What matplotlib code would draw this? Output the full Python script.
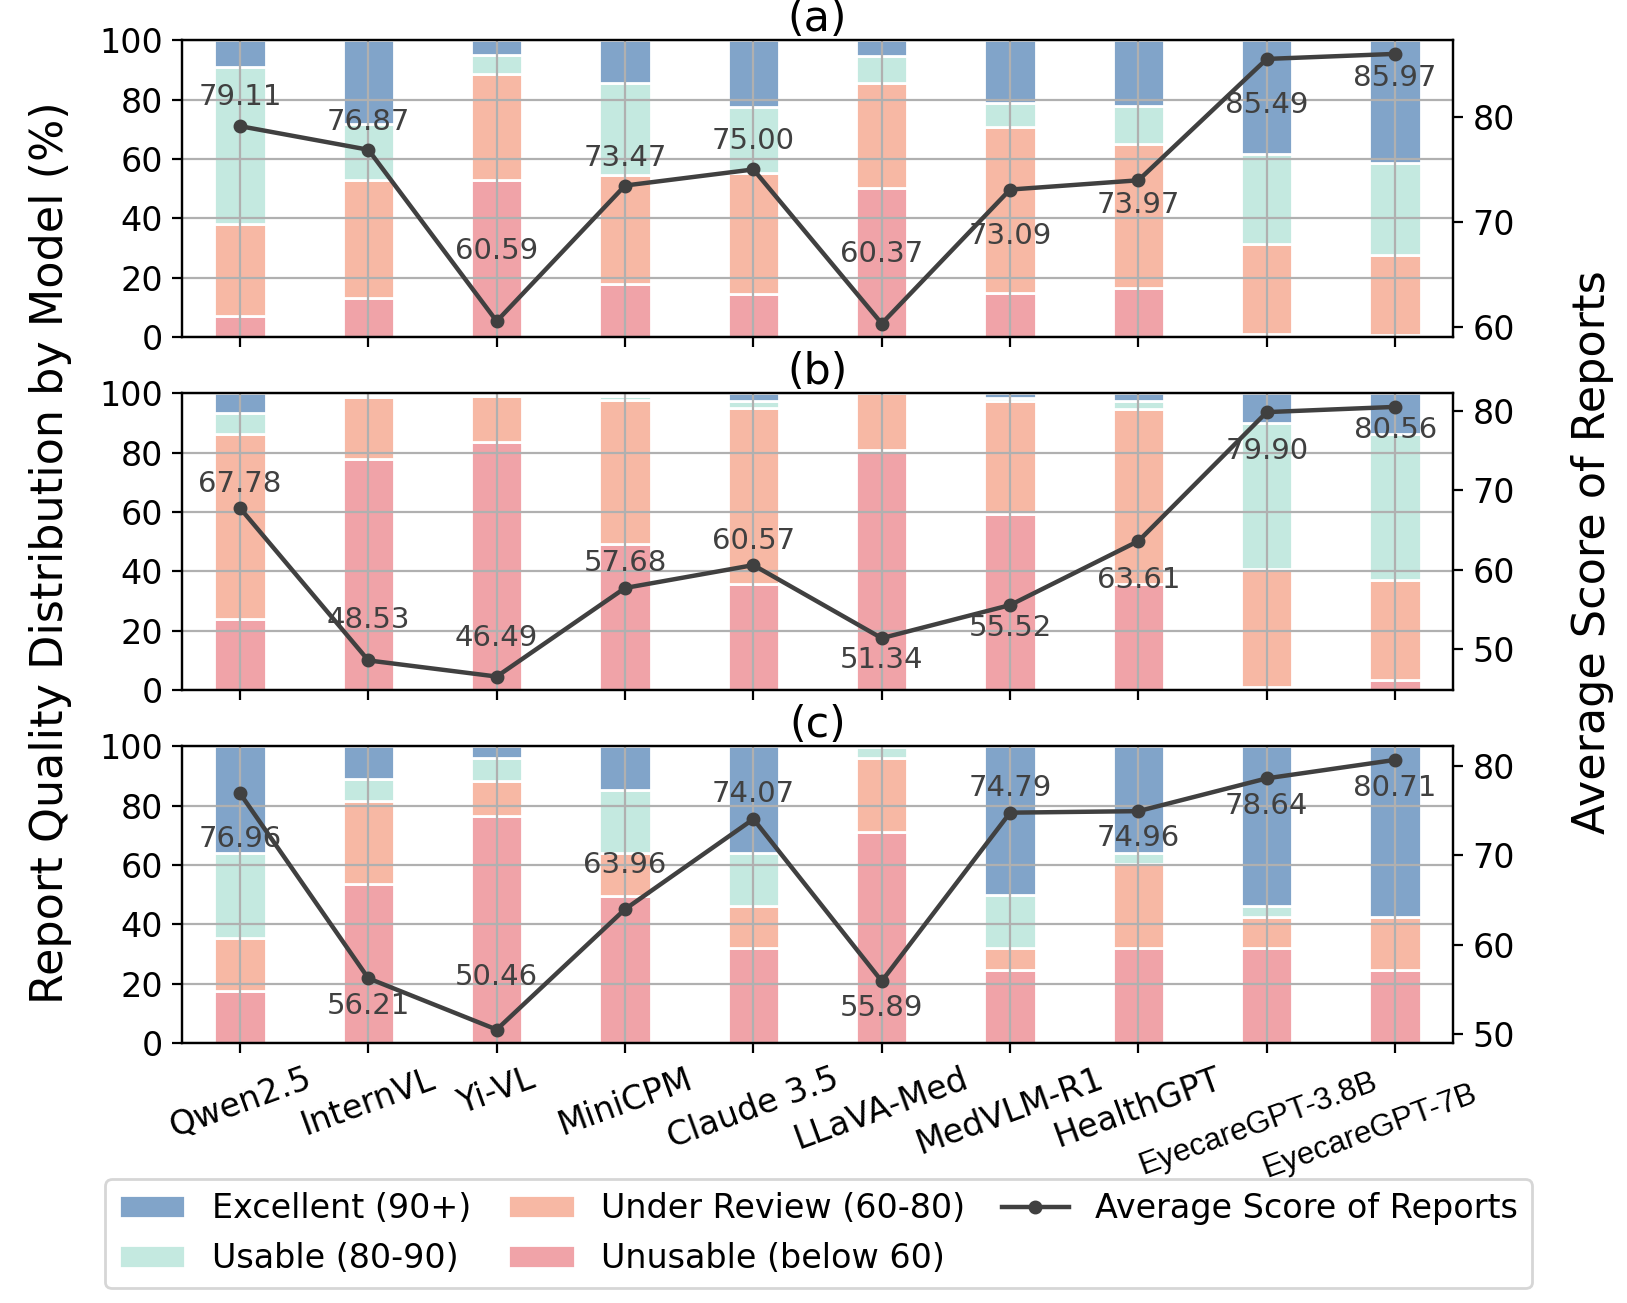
import matplotlib
matplotlib.use("Agg")
import matplotlib.pyplot as plt
import matplotlib.transforms as mtransforms
import numpy as np

models = ["Qwen2.5", "InternVL", "Yi-VL", "MiniCPM", "Claude 3.5", "LLaVA-Med",
          "MedVLM-R1", "HealthGPT", "EyecareGPT-3.8B", "EyecareGPT-7B"]
panel_titles = ["(a)", "(b)", "(c)"]

# percentages per quality band, one list per panel
unusable_a = [7.2, 13.0, 52.8, 17.9, 14.5, 50.2, 15.0, 16.5, 1.1, 0.8]
review_a = [30.9, 39.8, 35.9, 36.6, 40.8, 35.6, 55.7, 48.5, 30.2, 26.8]
usable_a = [52.9, 19.0, 6.5, 31.1, 22.2, 8.8, 8.2, 12.9, 30.4, 31.1]
excellent_a = [9.0, 28.2, 4.8, 14.4, 22.5, 5.4, 21.1, 22.1, 38.3, 41.3]
score_a = [79.11, 76.87, 60.59, 73.47, 75.00, 60.37, 73.09, 73.97, 85.49, 85.97]

unusable_b = [23.9, 77.8, 83.5, 49.3, 35.8, 81.0, 59.4, 35.8, 0.9, 3.4]
review_b = [62.3, 21.1, 15.7, 48.5, 59.2, 19.0, 37.9, 58.9, 40.0, 33.6]
usable_b = [7.3, 0.0, 0.0, 1.2, 2.6, 0.0, 1.2, 2.8, 49.2, 49.2]
excellent_b = [6.5, 0.0, 0.0, 0.0, 2.4, 0.0, 1.5, 2.5, 9.9, 13.8]
score_b = [67.78, 48.53, 46.49, 57.68, 60.57, 51.34, 55.52, 63.61, 79.90, 80.56]

unusable_c = [17.5, 53.5, 76.7, 49.6, 31.9, 71.1, 24.6, 31.9, 31.9, 24.6]
review_c = [17.8, 28.2, 11.5, 14.3, 14.3, 25.0, 7.3, 28.3, 10.7, 18.0]
usable_c = [28.6, 7.3, 7.8, 21.5, 18.0, 3.6, 17.9, 3.7, 3.6, 0.0]
excellent_c = [36.1, 11.0, 4.0, 14.6, 35.8, 0.3, 50.2, 36.1, 53.8, 57.4]
score_c = [76.96, 56.21, 50.46, 63.96, 74.07, 55.89, 74.79, 74.96, 78.64, 80.71]

panels = [
    (unusable_a, review_a, usable_a, excellent_a, score_a),
    (unusable_b, review_b, usable_b, excellent_b, score_b),
    (unusable_c, review_c, usable_c, excellent_c, score_c),
]

# vertical offset (pixels) of each score label from its marker
label_offsets = [
    [29, 28, 70, 28, 28, 70, -46, -25, -46, -24],
    [24, 40, 39, 25, 24, -22, -23, -39, -39, -23],
    [-46, -28, 53, 44, 25, -27, 25, -27, -28, -28],
]

band_names = ["Unusable (below 60)", "Under Review (60-80)", "Usable (80-90)", "Excellent (90+)"]
band_colors = ["#F0A3A8", "#F7B8A4", "#C4E9E0", "#81A4C9"]
line_color = "#404040"

fig, axes = plt.subplots(3, 1, sharex=True, figsize=(8.135, 6.515), dpi=200)
fig.subplots_adjust(left=0.112, right=0.893, top=0.969, bottom=0.1995, hspace=0.19)

x = np.arange(len(models))
bar_handles = []
line_handle = None
for k, ax in enumerate(axes):
    bands = panels[k][:4]
    scores = panels[k][4]
    bottom = np.zeros(len(models))
    handles = []
    for vals, name, col in zip(bands, band_names, band_colors):
        b = ax.bar(x, vals, 0.4, bottom=bottom, color=col, edgecolor="white",
                   linewidth=1, label=name)
        bottom += np.array(vals)
        handles.append(b)
    if k == 0:
        bar_handles = handles
    ax.set_ylim(0, 100)
    ax.set_yticks([0, 20, 40, 60, 80, 100])
    ax.tick_params(labelsize=12)
    ax.grid(True, color="#b0b0b0", linewidth=0.8)
    ax.set_title(panel_titles[k], fontsize=15.4, pad=0)

    ax2 = ax.twinx()
    ln, = ax2.plot(x, scores, color=line_color, marker="o", markersize=4,
                   linewidth=1.6, label="Average Score of Reports")
    line_handle = ln
    ax2.tick_params(labelsize=12)
    for i, v in enumerate(scores):
        ax2.annotate(f"{v:.2f}", (i, v), xytext=(0, label_offsets[k][i]),
                     textcoords="offset pixels", ha="center", va="center",
                     fontsize=10.5, color=line_color)

axes[0].set_xlim(-0.45, 9.45)
axes[-1].set_xticks(x)
axes[-1].set_xticklabels(models, rotation=20, ha="center", fontsize=12)

# the two EyecareGPT labels sit a bit lower/left in a different face
eyecare_shift = {"EyecareGPT-3.8B": (-3, -1.5), "EyecareGPT-7B": (-9, -6)}
for lab in axes[-1].get_xticklabels():
    name = lab.get_text()
    if name in eyecare_shift:
        lab.set_family("Liberation Sans")
        lab.set_fontsize(11.2)
        dx, dy = eyecare_shift[name]
        lab.set_transform(lab.get_transform() +
                          mtransforms.ScaledTranslation(dx / 72, dy / 72, fig.dpi_scale_trans))

fig.text(0.031, 0.576, "Report Quality Distribution by Model (%)", rotation=90,
         ha="center", va="center", fontsize=16)
fig.text(0.979, 0.576, "Average Score of Reports", rotation=90,
         ha="center", va="center", fontsize=16)

leg_handles = [bar_handles[3], bar_handles[2], bar_handles[1], bar_handles[0], line_handle]
leg_labels = ["Excellent (90+)", "Usable (80-90)", "Under Review (60-80)",
              "Unusable (below 60)", "Average Score of Reports"]
fig.legend(leg_handles, leg_labels, loc="center", bbox_to_anchor=(0.503, 0.0533),
           ncol=3, fontsize=12, columnspacing=1.1)

fig.savefig("out.png", dpi=200)
